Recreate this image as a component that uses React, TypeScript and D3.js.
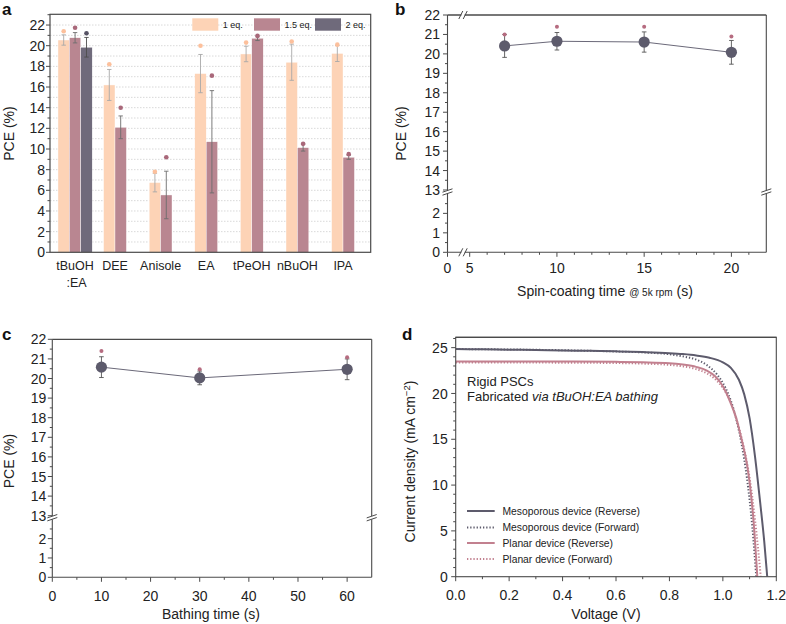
import React from 'react';
import * as d3 from 'd3';

const FONT = '"Liberation Sans", Arial, Helvetica, sans-serif';
const AX = '#4a4a4a';

// ---------- Panel a data ----------
const solvents = ['tBuOH:EA', 'DEE', 'Anisole', 'EA', 'tPeOH', 'nBuOH', 'IPA'];
const eqLabels = ['1 eq.', '1.5 eq.', '2 eq.'];
const eq1Mean = [20.55, 16.2, 6.75, 17.3, 19.2, 18.4, 19.25];
const eq1Err = [0.5, 1.5, 0.9, 1.85, 0.75, 1.75, 0.78];
const eq1Max = [21.4, 18.2, 7.8, 20.0, 20.3, 20.4, 20.1];
const eq15Mean = [20.77, 12.1, 5.55, 10.7, 20.72, 10.13, 9.2];
const eq15Err = [0.5, 1.1, 2.3, 4.95, 0.22, 0.33, 0.2];
const eq15Max = [21.74, 14.0, 9.2, 17.1, 20.95, 10.5, 9.5];
const eq2Mean = [19.85];
const eq2Err = [0.95];
const eq2Max = [21.2];
const aYTicks = [0, 2, 4, 6, 8, 10, 12, 14, 16, 18, 20, 22];

// ---------- Panel b data ----------
const spinTime = [7, 10, 15, 20];
const spinMean = [20.41, 20.65, 20.61, 20.08];
const spinErr = [0.59, 0.45, 0.52, 0.61];
const spinMax = [21.0, 21.4, 21.4, 20.9];
const bXTicks = [5, 10, 15, 20];

// ---------- Panel c data ----------
const bathTime = [10, 30, 60];
const bathMean = [20.58, 20.03, 20.47];
const bathErr = [0.53, 0.35, 0.53];
const bathMax = [21.4, 20.47, 21.08];
const cXTicks = [0, 10, 20, 30, 40, 50, 60];

const hiTicks = [13, 14, 15, 16, 17, 18, 19, 20, 21, 22];
const loTicks = [0, 1, 2];

// ---------- Panel d data ----------
const mesoRevV = [0, 0.1, 0.2, 0.3, 0.4, 0.5, 0.6, 0.7, 0.8, 0.85, 0.9, 0.95, 1.0, 1.03, 1.06, 1.08, 1.1, 1.12, 1.14, 1.155, 1.166];
const mesoRevJ = [24.85, 24.82, 24.78, 24.74, 24.7, 24.65, 24.6, 24.52, 24.4, 24.3, 24.15, 23.9, 23.4, 22.8, 21.5, 19.9, 17.3, 13.2, 8.0, 3.8, 0];
const mesoFwdV = [0, 0.2, 0.4, 0.6, 0.7, 0.8, 0.85, 0.9, 0.94, 0.98, 1.01, 1.03, 1.05, 1.07, 1.09, 1.11, 1.125];
const mesoFwdJ = [24.85, 24.8, 24.72, 24.58, 24.48, 24.28, 24.05, 23.7, 23.1, 22.0, 20.6, 19.2, 17.2, 14.5, 10.8, 5.5, 0];
const planRevV = [0, 0.2, 0.4, 0.6, 0.7, 0.8, 0.85, 0.9, 0.94, 0.97, 1.0, 1.03, 1.05, 1.07, 1.09, 1.1, 1.115, 1.129];
const planRevJ = [23.5, 23.5, 23.48, 23.45, 23.4, 23.3, 23.15, 22.9, 22.5, 21.9, 20.8, 18.9, 17.3, 15.0, 12.3, 10.3, 6.0, 0];
const planFwdV = [0, 0.2, 0.4, 0.6, 0.7, 0.8, 0.85, 0.9, 0.94, 0.97, 1.0, 1.03, 1.06, 1.08, 1.1, 1.12, 1.142];
const planFwdJ = [23.38, 23.38, 23.36, 23.32, 23.26, 23.12, 22.96, 22.66, 22.2, 21.6, 20.6, 19.0, 16.3, 13.9, 10.8, 6.3, 0];
const curveNames = ['Mesoporous device (Reverse)', 'Mesoporous device (Forward)', 'Planar device (Reverse)', 'Planar device (Forward)'];
const dXTicks = [0, 0.2, 0.4, 0.6, 0.8, 1.0, 1.2];
const dYTicks = [0, 5, 10, 15, 20, 25];

const C1 = '#fdd3b6';
const C15 = '#b98691';
const C2 = '#6f6a7b';
const DARK = '#5d5b6c';
const PINK = '#c2808f';

function range(a: number, b: number, s: number) {
  const r: number[] = [];
  for (let v = a; v <= b + 1e-9; v += s) r.push(+v.toFixed(4));
  return r;
}

function PanelA() {
  const L = 50, R = 370.7, T = 14.3, B = 252.3;
  const x = d3.scaleLinear().domain([-0.425, 6.607]).range([L, R]);
  const y = d3.scaleLinear().domain([0, 23.04]).range([B, T]);
  const bw = 0.25;
  const series = [
    { mean: eq1Mean, err: eq1Err, max: eq1Max, fill: C1, dot: '#fcc09c', ec: '#a8a8a8', off: -0.25 },
    { mean: eq15Mean, err: eq15Err, max: eq15Max, fill: C15, dot: '#a9687a', ec: '#6d6d6d', off: 0 },
    { mean: eq2Mean, err: eq2Err, max: eq2Max, fill: C2, dot: '#565264', ec: '#4d4d4d', off: 0.25 },
  ];
  const legendX = [192.3, 254, 315];
  const legendFill = [C1, C15, C2];
  return (
    <g>
      {range(1, 22, 1).map((v) => (
        <line key={'g' + v} x1={L} x2={R} y1={y(v)} y2={y(v)} stroke="#cfcfcf" strokeWidth={0.8} strokeDasharray="1.5,1.5" />
      ))}
      {series.map((s, si) =>
        s.mean.map((m, i) => {
          const x0 = x(i + s.off), x1 = x(i + s.off + bw);
          const cx = (x0 + x1) / 2;
          return (
            <g key={si + '-' + i}>
              <rect x={x0} y={y(m)} width={x1 - x0} height={B - y(m)} fill={s.fill} stroke="#ffffff" strokeWidth={0.4} />
              <line x1={cx} x2={cx} y1={y(m + s.err[i])} y2={y(m - s.err[i])} stroke={s.ec} strokeWidth={0.9} />
              <line x1={cx - 2.2} x2={cx + 2.2} y1={y(m + s.err[i])} y2={y(m + s.err[i])} stroke={s.ec} strokeWidth={0.9} />
              <line x1={cx - 2.2} x2={cx + 2.2} y1={y(m - s.err[i])} y2={y(m - s.err[i])} stroke={s.ec} strokeWidth={0.9} />
              <circle cx={cx} cy={y(s.max[i])} r={2.3} fill={s.dot} />
            </g>
          );
        })
      )}
      <rect x={L} y={T} width={R - L} height={B - T} fill="none" stroke={AX} strokeWidth={1.2} />
      {range(0, 23, 1).map((v) => (
        <line key={'t' + v} x1={L} x2={L - (v % 2 === 0 ? 4 : 2.5)} y1={y(v)} y2={y(v)} stroke={AX} strokeWidth={1} />
      ))}
      {aYTicks.map((v) => (
        <text key={'l' + v} x={L - 5} y={y(v)} dy="0.36em" textAnchor="end" fontSize={14} fontFamily={FONT} fill="#222">{v}</text>
      ))}
      {solvents.map((s, i) => {
        const n = i === 0 ? 3 : 2;
        const cx = x(i + (n - 2) * 0.125);
        const parts = s.split(':');
        return (
          <text key={s} x={cx} y={270} textAnchor="middle" fontSize={12.5} fontFamily={FONT} fill="#222">
            {parts.length > 1 ? (
              <>
                <tspan x={cx} y={270}>{parts[0]}</tspan>
                <tspan x={cx + 1.5} y={287}>{':' + parts[1]}</tspan>
              </>
            ) : s}
          </text>
        );
      })}
      <text transform={`translate(14,133.5) rotate(-90)`} textAnchor="middle" fontSize={14} fontFamily={FONT} fill="#222">PCE (%)</text>
      {eqLabels.map((lb, i) => (
        <g key={lb}>
          <rect x={legendX[i]} y={18.3} width={26} height={12.4} fill={legendFill[i]} />
          <text x={legendX[i] + 30.5} y={28.3} fontSize={9} fontFamily={FONT} fill="#222">{lb}</text>
        </g>
      ))}
      <text x={2} y={15} fontSize={17} fontWeight="bold" fontFamily={FONT} fill="#111">a</text>
    </g>
  );
}

function BreakY({ x, y }: { x: number; y: number }) {
  return (
    <g>
      <rect x={x - 2} y={y - 1.6} width={4} height={3.2} fill="#fff" />
      <line x1={x - 5} y1={y + 0.2} x2={x + 5} y2={y - 3.2} stroke={AX} strokeWidth={1} />
      <line x1={x - 5} y1={y + 3.2} x2={x + 5} y2={y - 0.2} stroke={AX} strokeWidth={1} />
    </g>
  );
}
function BreakX({ x, y }: { x: number; y: number }) {
  return (
    <g>
      <rect x={x - 1.6} y={y - 2} width={3.2} height={4} fill="#fff" />
      <line x1={x - 4.2} y1={y + 4} x2={x - 0.2} y2={y - 4} stroke={AX} strokeWidth={1} />
      <line x1={x + 0.2} y1={y + 4} x2={x + 4.2} y2={y - 4} stroke={AX} strokeWidth={1} />
    </g>
  );
}

type BrokenProps = {
  L: number; R: number; T: number; B: number;
  yHi: d3.ScaleLinear<number, number>; yLo: d3.ScaleLinear<number, number>;
  breakY: number; labelDx: number;
};
function BrokenYAxis({ L, R, T, B, yHi, yLo, breakY, labelDx }: BrokenProps) {
  return (
    <g>
      <line x1={L} x2={L} y1={T} y2={B} stroke={AX} strokeWidth={1.1} />
      <line x1={R} x2={R} y1={T} y2={B} stroke={AX} strokeWidth={1.1} />
      <line x1={L} x2={R} y1={T} y2={T} stroke={AX} strokeWidth={1.3} />
      {range(13, 22, 0.5).map((v) => (
        <line key={'h' + v} x1={L} x2={L - (Number.isInteger(v) ? 4.5 : 2.5)} y1={yHi(v)} y2={yHi(v)} stroke={AX} strokeWidth={1} />
      ))}
      {range(0, 2.5, 0.5).map((v) => (
        <line key={'lo' + v} x1={L} x2={L - (Number.isInteger(v) ? 4.5 : 2.5)} y1={yLo(v)} y2={yLo(v)} stroke={AX} strokeWidth={1} />
      ))}
      {hiTicks.map((v) => (
        <text key={'hl' + v} x={L - labelDx} y={yHi(v)} dy="0.36em" textAnchor="end" fontSize={14} fontFamily={FONT} fill="#222">{v}</text>
      ))}
      {loTicks.map((v) => (
        <text key={'ll' + v} x={L - labelDx} y={yLo(v)} dy="0.36em" textAnchor="end" fontSize={14} fontFamily={FONT} fill="#222">{v}</text>
      ))}
      <BreakY x={L} y={breakY} />
      <BreakY x={R} y={breakY} />
    </g>
  );
}

function ErrPoints({ xs, means, errs, maxs, x, y }: any) {
  const line = d3.line<number>().x((_, i) => x(xs[i])).y((m) => y(m));
  return (
    <g>
      <path d={line(means) || ''} fill="none" stroke="#6b6979" strokeWidth={1} />
      {means.map((m: number, i: number) => {
        const cx = x(xs[i]);
        const t = y(m + errs[i]), b = y(m - errs[i]);
        return (
          <g key={i}>
            <line x1={cx} x2={cx} y1={t} y2={b} stroke="#555" strokeWidth={0.9} />
            <line x1={cx - 2.3} x2={cx + 2.3} y1={t} y2={t} stroke="#555" strokeWidth={0.9} />
            <line x1={cx - 2.3} x2={cx + 2.3} y1={b} y2={b} stroke="#555" strokeWidth={0.9} />
            <circle cx={cx} cy={y(m)} r={5.6} fill={DARK} />
            <circle cx={cx} cy={y(maxs[i])} r={2} fill="#b66c80" />
          </g>
        );
      })}
    </g>
  );
}

function PanelB() {
  const L = 447.5, R = 766.3, T = 15, B = 252.3;
  const x = d3.scaleLinear().domain([5, 22]).range([469.7, R]);
  const yHi = d3.scaleLinear().domain([13, 22]).range([190, T]);
  const yLo = d3.scaleLinear().domain([0, 3]).range([B, 193.9]);
  const bx = 463;
  return (
    <g>
      <BrokenYAxis L={L} R={R} T={T} B={B} yHi={yHi} yLo={yLo} breakY={192} labelDx={7.5} />
      <line x1={L} x2={R} y1={B} y2={B} stroke={AX} strokeWidth={1.1} />
      <BreakX x={bx} y={B} />
      <BreakX x={bx} y={T} />
      <line x1={L} x2={L} y1={B} y2={B + 4.5} stroke={AX} strokeWidth={1} />
      {range(5, 21, 1).map((v) => (
        <line key={'xt' + v} x1={x(v)} x2={x(v)} y1={B} y2={B + (v % 5 === 0 ? 4.5 : 2.5)} stroke={AX} strokeWidth={1} />
      ))}
      <text x={L} y={273} textAnchor="middle" fontSize={14} fontFamily={FONT} fill="#222">0</text>
      {bXTicks.map((v) => (
        <text key={'xl' + v} x={x(v)} y={273} textAnchor="middle" fontSize={14} fontFamily={FONT} fill="#222">{v}</text>
      ))}
      <ErrPoints xs={spinTime} means={spinMean} errs={spinErr} maxs={spinMax} x={x} y={yHi} />
      <text x={605} y={296} textAnchor="middle" fontSize={14} fontFamily={FONT} fill="#222">
        Spin-coating time <tspan fontSize={10}>@ 5k rpm</tspan> (s)
      </text>
      <text transform={`translate(406,133.5) rotate(-90)`} textAnchor="middle" fontSize={14} fontFamily={FONT} fill="#222">PCE (%)</text>
      <text x={395} y={15} fontSize={17} fontWeight="bold" fontFamily={FONT} fill="#111">b</text>
    </g>
  );
}

function PanelC() {
  const L = 52.3, R = 371.7, T = 339.3, B = 577.3;
  const x = d3.scaleLinear().domain([0, 65]).range([L, R]);
  const yHi = d3.scaleLinear().domain([13, 22]).range([515.7, T]);
  const yLo = d3.scaleLinear().domain([0, 3]).range([B, 519.3]);
  return (
    <g>
      <BrokenYAxis L={L} R={R} T={T} B={B} yHi={yHi} yLo={yLo} breakY={517.7} labelDx={6} />
      <line x1={L} x2={R} y1={B} y2={B} stroke={AX} strokeWidth={1.1} />
      {range(0, 60, 5).map((v) => (
        <line key={'xt' + v} x1={x(v)} x2={x(v)} y1={B} y2={B + (v % 10 === 0 ? 4.5 : 2.5)} stroke={AX} strokeWidth={1} />
      ))}
      {cXTicks.map((v) => (
        <text key={'xl' + v} x={x(v)} y={601} textAnchor="middle" fontSize={14} fontFamily={FONT} fill="#222">{v}</text>
      ))}
      <ErrPoints xs={bathTime} means={bathMean} errs={bathErr} maxs={bathMax} x={x} y={yHi} />
      <text x={211} y={619} textAnchor="middle" fontSize={14} fontFamily={FONT} fill="#222">Bathing time (s)</text>
      <text transform={`translate(13.5,461) rotate(-90)`} textAnchor="middle" fontSize={14} fontFamily={FONT} fill="#222">PCE (%)</text>
      <text x={2} y={340} fontSize={17} fontWeight="bold" fontFamily={FONT} fill="#111">c</text>
    </g>
  );
}

function PanelD() {
  const L = 455.7, R = 776.3, T = 337.3, B = 576.7;
  const x = d3.scaleLinear().domain([0, 1.2]).range([L, R]);
  const y = d3.scaleLinear().domain([0, 26.13]).range([B, T]);
  const fmt = d3.format('.1f');
  const curves = [
    { v: mesoRevV, j: mesoRevJ, c: DARK, dash: '' },
    { v: mesoFwdV, j: mesoFwdJ, c: DARK, dash: '1.3,1.9' },
    { v: planRevV, j: planRevJ, c: PINK, dash: '' },
    { v: planFwdV, j: planFwdJ, c: PINK, dash: '1.3,1.9' },
  ];
  const legY = [511, 527.5, 543, 559];
  return (
    <g>
      <defs>
        <clipPath id="dclip"><rect x={L} y={T} width={R - L} height={B - T} /></clipPath>
      </defs>
      <g clipPath="url(#dclip)">
        {curves.map((cv, k) => {
          const line = d3.line<number>().x((v) => x(v)).y((_, i) => y(cv.j[i])).curve(d3.curveMonotoneX);
          return <path key={k} d={line(cv.v) || ''} fill="none" stroke={cv.c} strokeWidth={2} strokeDasharray={cv.dash || undefined} />;
        })}
      </g>
      <rect x={L} y={T} width={R - L} height={B - T} fill="none" stroke={AX} strokeWidth={1.1} />
      <line x1={L} x2={R} y1={T} y2={T} stroke={AX} strokeWidth={1.3} />
      {range(0, 1.2, 0.1).map((v, i) => (
        <line key={'xt' + i} x1={x(v)} x2={x(v)} y1={B} y2={B + (i % 2 === 0 ? 4.5 : 2.5)} stroke={AX} strokeWidth={1} />
      ))}
      {dXTicks.map((v) => (
        <text key={'xl' + v} x={x(v)} y={600} textAnchor="middle" fontSize={14} fontFamily={FONT} fill="#222">{fmt(v)}</text>
      ))}
      {range(0, 26, 1).map((v) => (
        <line key={'yt' + v} x1={L} x2={L - (v % 5 === 0 ? 4.5 : 2.5)} y1={y(v)} y2={y(v)} stroke={AX} strokeWidth={1} />
      ))}
      {dYTicks.map((v) => (
        <text key={'yl' + v} x={L - 8} y={y(v)} dy="0.36em" textAnchor="end" fontSize={14} fontFamily={FONT} fill="#222">{v}</text>
      ))}
      <text x={467} y={385.5} fontSize={13} fontFamily={FONT} fill="#222">Rigid PSCs</text>
      <text x={467} y={400.5} fontSize={13} fontFamily={FONT} fill="#222">
        Fabricated <tspan fontStyle="italic">via tBuOH:EA bathing</tspan>
      </text>
      {curveNames.map((nm, k) => (
        <g key={nm}>
          <line x1={467} x2={494.7} y1={legY[k]} y2={legY[k]} stroke={curves[k].c} strokeWidth={2} strokeDasharray={curves[k].dash || undefined} />
          <text x={502.5} y={legY[k]} dy="0.35em" fontSize={10.3} fontFamily={FONT} fill="#222">{nm}</text>
        </g>
      ))}
      <text x={606} y={619} textAnchor="middle" fontSize={14} fontFamily={FONT} fill="#222">Voltage (V)</text>
      <text transform={`translate(415,461.5) rotate(-90)`} textAnchor="middle" fontSize={14} fontFamily={FONT} fill="#222">
        Current density (mA cm<tspan dy={-5} fontSize={9.5}>−2</tspan><tspan dy={5}>)</tspan>
      </text>
      <text x={402} y={340} fontSize={17} fontWeight="bold" fontFamily={FONT} fill="#111">d</text>
    </g>
  );
}

export default function App() {
  return (
    <svg width={786} height={624} viewBox="0 0 786 624" style={{ display: 'block', position: 'absolute', left: 0, top: 0, background: '#fff' }}>
      <rect x={0} y={0} width={786} height={624} fill="#fff" />
      <PanelA />
      <PanelB />
      <PanelC />
      <PanelD />
    </svg>
  );
}
